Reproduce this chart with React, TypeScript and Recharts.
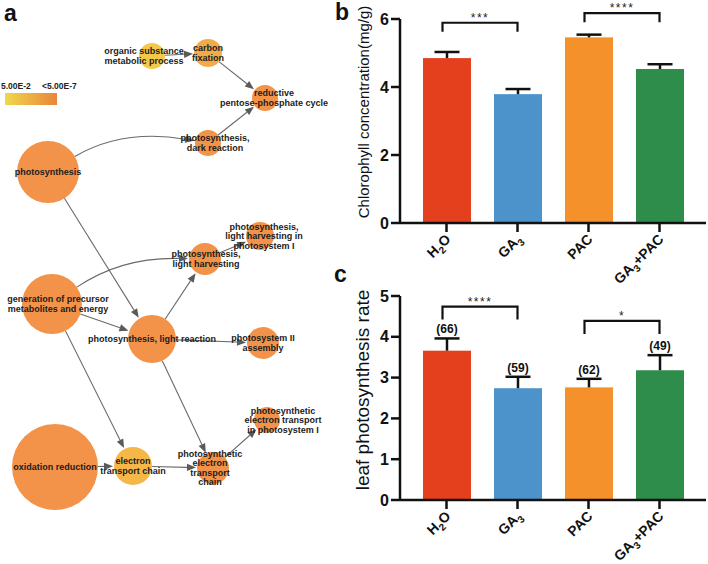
import React from 'react';
import { BarChart, Bar, Cell, XAxis, YAxis, ReferenceLine, ScatterChart, Scatter } from 'recharts';

const FONT = '"Liberation Sans", Arial, Helvetica, sans-serif';

// ---- panels b and c ----
const groups = ['H2O', 'GA3', 'PAC', 'GA3+PAC'];
const groupColors = ['#E5401D', '#4D93CB', '#F4912A', '#2F8D4B'];

const chlorophyll = [4.85, 3.79, 5.46, 4.53];
const chlorophyllErr = [0.18, 0.15, 0.08, 0.14];
const chlTicks = [0, 2, 4, 6];
const chlSig = [
  { from: 'H2O', to: 'GA3', y: 5.89, mark: '***' },
  { from: 'PAC', to: 'GA3+PAC', y: 6.17, mark: '****' },
];

const photoRate = [3.66, 2.74, 2.76, 3.18];
const photoRateErr = [0.3, 0.28, 0.21, 0.37];
const photoN = [66, 59, 62, 49];
const rateTicks = [0, 1, 2, 3, 4, 5];
const rateSig = [
  { from: 'H2O', to: 'GA3', y: 4.74, mark: '****' },
  { from: 'PAC', to: 'GA3+PAC', y: 4.39, mark: '*' },
];

// ---- panel a: enriched GO terms (layout x/y, node size, -log10 p) ----
const goTerms = [
  { id: 'org', label: ['organic substance', 'metabolic process'], x: 152, y: 56, size: 13, logP: 2.3 },
  { id: 'cfix', label: ['carbon', 'fixation'], x: 208, y: 53, size: 14, logP: 4.5 },
  { id: 'rpp', label: ['reductive', 'pentose-phosphate cycle'], x: 265, y: 98, size: 13, logP: 6.5 },
  { id: 'dark', label: ['photosynthesis,', 'dark reaction'], x: 208, y: 143, size: 13, logP: 6.5 },
  { id: 'ps', label: ['photosynthesis'], x: 48, y: 172, size: 31, logP: 6.5 },
  { id: 'lhps1', label: ['photosynthesis,', 'light harvesting in', 'photosystem I'], x: 260, y: 236, size: 14, logP: 6.5 },
  { id: 'lh', label: ['photosynthesis,', 'light harvesting'], x: 205, y: 259, size: 16, logP: 6.5 },
  { id: 'gen', label: ['generation of precursor', 'metabolites and energy'], x: 52, y: 304, size: 30, logP: 6.5 },
  { id: 'light', label: ['photosynthesis, light reaction'], x: 152, y: 339, size: 24, logP: 6.5 },
  { id: 'ps2', label: ['photosystem II', 'assembly'], x: 263, y: 343, size: 16, logP: 6.5 },
  { id: 'petps1', label: ['photosynthetic', 'electron transport', 'in photosystem I'], x: 267, y: 420, size: 13, logP: 6.5 },
  { id: 'ox', label: ['oxidation reduction'], x: 55, y: 467, size: 43, logP: 6.5 },
  { id: 'etc', label: ['electron', 'transport chain'], x: 133, y: 466, size: 19, logP: 3.6 },
  { id: 'petc', label: ['photosynthetic', 'electron', 'transport', 'chain'], x: 213, y: 468, size: 16, logP: 6.5 },
];

// source, target, bend
const goLinks: [string, string, number][] = [
  ['org', 'cfix', 0],
  ['cfix', 'rpp', 0],
  ['dark', 'rpp', 0],
  ['ps', 'dark', 0.18],
  ['ps', 'light', 0],
  ['gen', 'lh', 0.16],
  ['gen', 'light', 0],
  ['gen', 'etc', 0],
  ['light', 'lh', 0],
  ['lh', 'lhps1', 0],
  ['light', 'ps2', 0],
  ['light', 'petc', 0],
  ['ox', 'etc', 0],
  ['etc', 'petc', 0],
  ['petc', 'petps1', 0],
];

// label nudges, px
const labelShift: Record<string, number> = {
  org: -8, rpp: 9, lhps1: 4, petps1: 16, gen: 6, dark: 7, lh: 1, petc: -3,
};

const LOW = [0xf5, 0xd5, 0x48];
const HIGH = [0xf2, 0x93, 0x49];
const pColor = (logP: number) => {
  const t = Math.max(0, Math.min(1, (logP - 1.3) / 5));
  const c = LOW.map((v, i) => Math.round(v + (HIGH[i] - v) * t));
  return `rgb(${c[0]},${c[1]},${c[2]})`;
};

const termById = Object.fromEntries(goTerms.map((t) => [t.id, t]));

const NodeShape = (props: any) => {
  const { cx, cy, payload } = props;
  const lines: string[] = payload.label;
  const lh = 9.5;
  const dx = labelShift[payload.id] || 0;
  const first = cy - ((lines.length - 1) * lh) / 2 + 3;
  return (
    <g>
      <circle cx={cx} cy={cy} r={payload.size} fill={pColor(payload.logP)} />
      <text textAnchor="middle" fontSize={9} fontWeight={700} fill="#1c1c1c" fontFamily={FONT}>
        {lines.map((s, i) => (
          <tspan key={i} x={cx + dx} y={first + i * lh}>{s}</tspan>
        ))}
      </text>
    </g>
  );
};

const edgeShape = (rs: number, rt: number, bend: number) => (p: any) => {
  const { x1, y1, x2, y2 } = p;
  const dx = x2 - x1;
  const dy = y2 - y1;
  const len = Math.hypot(dx, dy) || 1;
  const cx = (x1 + x2) / 2 + (dy / len) * bend * len;
  const cy = (y1 + y2) / 2 + (-dx / len) * bend * len;
  const sdx = cx - x1, sdy = cy - y1;
  const sl = Math.hypot(sdx, sdy) || 1;
  const sx = x1 + (sdx / sl) * rs, sy = y1 + (sdy / sl) * rs;
  const edx = x2 - cx, edy = y2 - cy;
  const el = Math.hypot(edx, edy) || 1;
  const ux = edx / el, uy = edy / el;
  const tx = x2 - ux * (rt + 1), ty = y2 - uy * (rt + 1);
  const bx = tx - ux * 9, by = ty - uy * 9;
  const d = bend ? `M${sx},${sy}Q${cx},${cy} ${bx},${by}` : `M${sx},${sy}L${bx},${by}`;
  const head = `M${tx},${ty}L${bx - uy * 3.6},${by + ux * 3.6}L${bx + uy * 3.6},${by - ux * 3.6}Z`;
  return (
    <g>
      <path d={d} fill="none" stroke="#6a6a6a" strokeWidth={1.1} />
      <path d={head} fill="#5a5a5a" />
    </g>
  );
};

const Network = () => (
  <ScatterChart width={340} height={564} margin={{ top: 0, right: 0, bottom: 0, left: 0 }}>
    <XAxis type="number" dataKey="x" domain={[0, 340]} hide allowDataOverflow />
    <YAxis type="number" dataKey="y" domain={[0, 564]} reversed hide allowDataOverflow />
    {goLinks.map(([s, t, bend]) => {
      const a = termById[s];
      const b = termById[t];
      return (
        <ReferenceLine
          key={s + t}
          segment={[{ x: a.x, y: a.y }, { x: b.x, y: b.y }]}
          ifOverflow="visible"
          shape={edgeShape(a.size, b.size, bend)}
        />
      );
    })}
    <Scatter data={goTerms} isAnimationActive={false} shape={NodeShape} />
  </ScatterChart>
);

// ---- bar charts ----
const GroupTick = (props: any) => {
  const { x, y, payload } = props;
  const parts = String(payload.value).split(/(\d)/).filter(Boolean);
  return (
    <g transform={`translate(${x + 5},${y + 6}) rotate(-45)`}>
      <text textAnchor="end" fontSize={14} fontWeight={700} fill="#111" fontFamily={FONT}>
        {parts.map((s, i) =>
          /\d/.test(s) ? (
            <tspan key={i} fontSize={10} dy={4}>{s}</tspan>
          ) : (
            <tspan key={i} dy={i > 0 ? -4 : 0}>{s}</tspan>
          )
        )}
      </text>
    </g>
  );
};

const barShape = (showN: boolean) => (props: any) => {
  const { x, y, width, height, fill, payload } = props;
  const perUnit = height / payload.value;
  const top = y - payload.err * perUnit;
  const cx = x + width / 2;
  return (
    <g>
      <rect x={x} y={y} width={width} height={height} fill={fill} />
      <line x1={cx} x2={cx} y1={y} y2={top} stroke="#111" strokeWidth={2.5} />
      <line x1={cx - 12.5} x2={cx + 12.5} y1={top} y2={top} stroke="#111" strokeWidth={2.5} />
      {showN && (
        <text x={cx} y={top - 5} textAnchor="middle" fontSize={12} fontWeight={700} fill="#111" fontFamily={FONT}>
          ({payload.n})
        </text>
      )}
    </g>
  );
};

const bracketShape = (mark: string, leg: number) => (p: any) => {
  const { x1, x2, y1 } = p;
  const l = x1 - 4;
  const r = x2;
  return (
    <g>
      <path d={`M${l},${y1 + leg}V${y1}H${r}V${y1 + leg}`} fill="none" stroke="#111" strokeWidth={2.2} />
      <text x={(l + r) / 2} y={y1 - 1} textAnchor="middle" fontSize={12} fill="#222" letterSpacing={1.5} fontFamily={FONT}>
        {mark}
      </text>
    </g>
  );
};

const yLabel = (text: string, size: number, shiftY: number) => (lp: any) => {
  const vb = lp.viewBox || { x: 0, y: 0, width: 60, height: 200 };
  const cx = vb.x + 29;
  const cy = vb.y + vb.height / 2 + shiftY;
  return (
    <text
      x={cx}
      y={cy}
      transform={`rotate(-90, ${cx}, ${cy})`}
      textAnchor="middle"
      fontSize={size}
      fill="#111"
      fontFamily={FONT}
    >
      {text}
    </text>
  );
};

type BarPanelProps = {
  rows: any[];
  ticks: number[];
  sig: { from: string; to: string; y: number; mark: string }[];
  label: string;
  labelSize: number;
  labelShift: number;
  height: number;
  top: number;
  leg: number;
  showN: boolean;
};

const BarPanel = (p: BarPanelProps) => (
  <BarChart
    width={368}
    height={p.height}
    data={p.rows}
    margin={{ top: p.top, right: 2, bottom: 0, left: 0 }}
    barCategoryGap={0}
  >
    <XAxis
      dataKey="group"
      padding={{ left: 11, right: 11 }}
      axisLine={{ stroke: '#111', strokeWidth: 2.5 }}
      tickLine={{ stroke: '#111', strokeWidth: 2.5 }}
      tickSize={9}
      height={p.height - p.top - 204}
      interval={0}
      tick={<GroupTick />}
    />
    <YAxis
      width={60}
      domain={[0, p.ticks[p.ticks.length - 1]]}
      ticks={p.ticks}
      axisLine={{ stroke: '#111', strokeWidth: 2.5 }}
      tickLine={{ stroke: '#111', strokeWidth: 2.5 }}
      tickSize={9}
      tickMargin={2}
      tick={{ fontSize: 16, fontWeight: 700, fill: '#111', fontFamily: FONT }}
      label={{ value: p.label, content: yLabel(p.label, p.labelSize, p.labelShift) }}
    />
    {p.sig.map((s) => (
      <ReferenceLine
        key={s.from + s.to}
        segment={[{ x: s.from, y: s.y }, { x: s.to, y: s.y }]}
        ifOverflow="visible"
        shape={bracketShape(s.mark, p.leg)}
      />
    ))}
    <Bar dataKey="value" barSize={48} isAnimationActive={false} shape={barShape(p.showN)}>
      {p.rows.map((r, i) => (
        <Cell key={r.group} fill={groupColors[i]} />
      ))}
    </Bar>
  </BarChart>
);

const chlRows = groups.map((g, i) => ({ group: g, value: chlorophyll[i], err: chlorophyllErr[i] }));
const rateRows = groups.map((g, i) => ({ group: g, value: photoRate[i], err: photoRateErr[i], n: photoN[i] }));

const panelTag: React.CSSProperties = {
  position: 'absolute',
  fontFamily: FONT,
  fontWeight: 700,
  fontSize: 23,
  lineHeight: '23px',
  color: '#111',
};

export default function App() {
  return (
    <div style={{ position: 'absolute', left: 0, top: 0, width: 708, height: 564, background: '#fff', overflow: 'hidden', fontFamily: FONT }}>
      <div style={{ position: 'absolute', left: 0, top: 0 }}>
        <Network />
      </div>
      <div style={{ position: 'absolute', left: 0, top: 80, width: 80, fontSize: 8.5, fontWeight: 700, color: '#222' }}>
        <span style={{ position: 'absolute', left: 1, top: 1 }}>5.00E-2</span>
        <span style={{ position: 'absolute', left: 42, top: 1 }}>&lt;5.00E-7</span>
        <div
          style={{
            position: 'absolute',
            left: 5,
            top: 13,
            width: 52,
            height: 12,
            background: 'linear-gradient(to right, #EFD84A, #E9853A)',
          }}
        />
      </div>
      <div style={{ position: 'absolute', left: 340, top: 0 }}>
        <BarPanel
          rows={chlRows}
          ticks={chlTicks}
          sig={chlSig}
          label="Chlorophyll concentration(mg/g)"
          labelSize={15}
          labelShift={-9}
          height={300}
          top={19}
          leg={9}
          showN={false}
        />
      </div>
      <div style={{ position: 'absolute', left: 340, top: 284 }}>
        <BarPanel
          rows={rateRows}
          ticks={rateTicks}
          sig={rateSig}
          label="leaf photosynthesis rate"
          labelSize={19}
          labelShift={-8}
          height={280}
          top={12}
          leg={13}
          showN={true}
        />
      </div>
      <div style={{ ...panelTag, left: 4, top: 2 }}>a</div>
      <div style={{ ...panelTag, left: 335, top: 1 }}>b</div>
      <div style={{ ...panelTag, left: 334, top: 263 }}>c</div>
    </div>
  );
}
